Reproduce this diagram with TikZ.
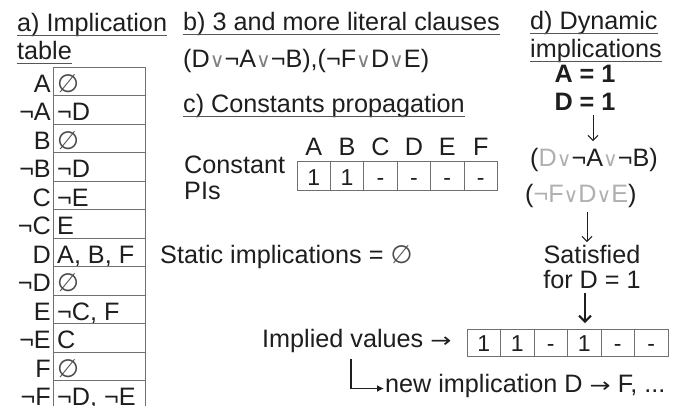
\documentclass[tikz,border=0pt]{standalone}
\usepackage{fontspec}
\usepackage{graphicx}
\setmainfont{Liberation Sans}
\newfontfamily\symf{DejaVu Sans}
\usetikzlibrary{arrows.meta}
\definecolor{ink}{HTML}{1E1E1E}
\definecolor{lite}{HTML}{B0B0B0}
\definecolor{boxc}{HTML}{707070}
\newcommand{\orv}{{\symf\color{gray}\scalebox{0.8}{∨}}}
\newcommand{\orl}{{\symf\color{lite}\scalebox{0.8}{∨}}}
\newcommand{\emptys}{{\symf\color{ink!80}∅}}
\newcommand{\rarr}{{\symf\scalebox{1}[0.8]{→}}}
\begin{document}
\begin{tikzpicture}[x=1pt,y=-1pt,
  every node/.style={font=\fontsize{25.2}{29}\selectfont, text=ink, inner sep=0pt},
  txt/.style={anchor=base west},
  ul/.style={draw=ink!75, line width=1.4pt},
  gridc/.style={draw=boxc, line width=0.9pt},
  cellt/.style={anchor=base, font=\fontsize{23}{27}\selectfont},
  boldt/.style={anchor=base, font=\fontsize{25.2}{29}\selectfont\bfseries},
  thinarr/.style={draw=ink, line width=1pt, -{Straight Barb[length=5pt,width=10pt]}},
  thickarr/.style={draw=ink, line width=2pt, -{Straight Barb[length=6pt,width=12pt]}},
  larr/.style={draw=ink, line width=1.8pt, -{Latex[length=7pt,width=7pt]}}]
\clip (0,0) rectangle (673,405);
\fill[white] (0,0) rectangle (673,405);

% ---------- a) implication table
\node[txt] (ta1) at (17,31) {a) Implication};
\node[txt] (ta2) at (17,59) {table};
\draw[ul] ([yshift=-4.5pt]ta1.base west) -- ([yshift=-4.5pt]ta1.base east);
\draw[ul] ([yshift=-4.5pt]ta2.base west) -- ([yshift=-4.5pt]ta2.base east);
\foreach \l/\v [count=\i from 0] in {A/\emptys, ¬A/¬D, B/\emptys, ¬B/¬D, C/¬E, ¬C/E, D/{A, B, F}, ¬D/\emptys, E/{¬C, F}, ¬E/C, F/\emptys, ¬F/{¬D, ¬E}}{
  \pgfmathsetmacro{\yt}{67+28.5*\i}
  \pgfmathsetmacro{\yb}{\yt+25}
  \draw[gridc] (53,\yt) rectangle (145,\yt+28.5);
  \node[anchor=base east] (la\i) at (51,\yb) {\l};
  \node[txt] (va\i) at (57,\yb) {\v};
}

% ---------- b)
\node[txt] (tb) at (183,30) {b) 3 and more literal clauses};
\draw[ul] ([yshift=-4.5pt]tb.base west) -- ([yshift=-4.5pt]tb.base east);
\node[txt] (cls) at (183,67) {(D\orv¬A\orv¬B),(¬F\orv D\orv E)};

% ---------- c)
\node[txt] (tc) at (183,112) {c) Constants propagation};
\draw[ul] ([yshift=-4.5pt]tc.base west) -- ([yshift=-4.5pt]tc.base east);
\node[txt] (cp1) at (184,173) {Constant};
\node[txt] (cp2) at (184,199) {PIs};
\foreach \h/\v [count=\i from 0] in {A/1, B/1, C/-, D/-, E/-, F/-}{
  \pgfmathsetmacro{\xl}{297+33.4*\i}
  \draw[gridc] (\xl,161) rectangle (\xl+33.4,190);
  \node[anchor=base] (hc\i) at (\xl+16.7,155) {\h};
  \node[cellt] (vc\i) at (\xl+16.7,185) {\v};
}
\node[txt] (stat) at (160,263) {Static implications = \emptys};

% ---------- d)
\node[txt] (td1) at (530,29) {d) Dynamic};
\node[txt] (td2) at (530,57) {implications};
\draw[ul] ([yshift=-4.5pt]td1.base west) -- ([yshift=-4.5pt]td1.base east);
\draw[ul] ([yshift=-4.5pt]td2.base west) -- ([yshift=-4.5pt]td2.base east);
\node[boldt] (da) at (585,82) {A = 1};
\node[boldt] (dd) at (585,110) {D = 1};
\node[txt] (cl1) at (530,166) {({\color{lite}D}\orl¬A\orl¬B)};
\node[txt] (cl2) at (525,202) {({\color{lite}¬F}\orl{\color{lite}D}\orl{\color{lite}E})};
\node[anchor=base] (sat1) at (592,263) {Satisfied};
\node[anchor=base] (sat2) at (592,288) {for D = 1};
\coordinate (a1s) at (593,115);
\coordinate (a1e) at (593,141);
\coordinate (a2s) at (587,212);
\coordinate (a2e) at (587,242);
\coordinate (a3s) at (585,293);
\draw[thinarr] (a1s) -- (a1e);
\draw[thinarr] (a2s) -- (a2e);

% ---------- implied values
\foreach \v [count=\i from 0] in {1, 1, -, 1, -, -}{
  \pgfmathsetmacro{\xl}{467+33.5*\i}
  \draw[gridc] (\xl,329) rectangle (\xl+33.5,356);
  \node[cellt] (iv\i) at (\xl+16.75,351) {\v};
}
\coordinate (a3e) at (585,323);
\draw[thickarr] (a3s) -- (a3e);
\node[txt] (impl) at (262,347) {Implied values \rarr};
\node[txt] (ni) at (385,392) {new implication D \rarr\ F, ...};
\coordinate (lstart) at (351,359);
\draw[larr] (lstart) |- ([xshift=-1pt,yshift=-1.5pt]ni.base west |- 0,387);
\end{tikzpicture}
\end{document}
